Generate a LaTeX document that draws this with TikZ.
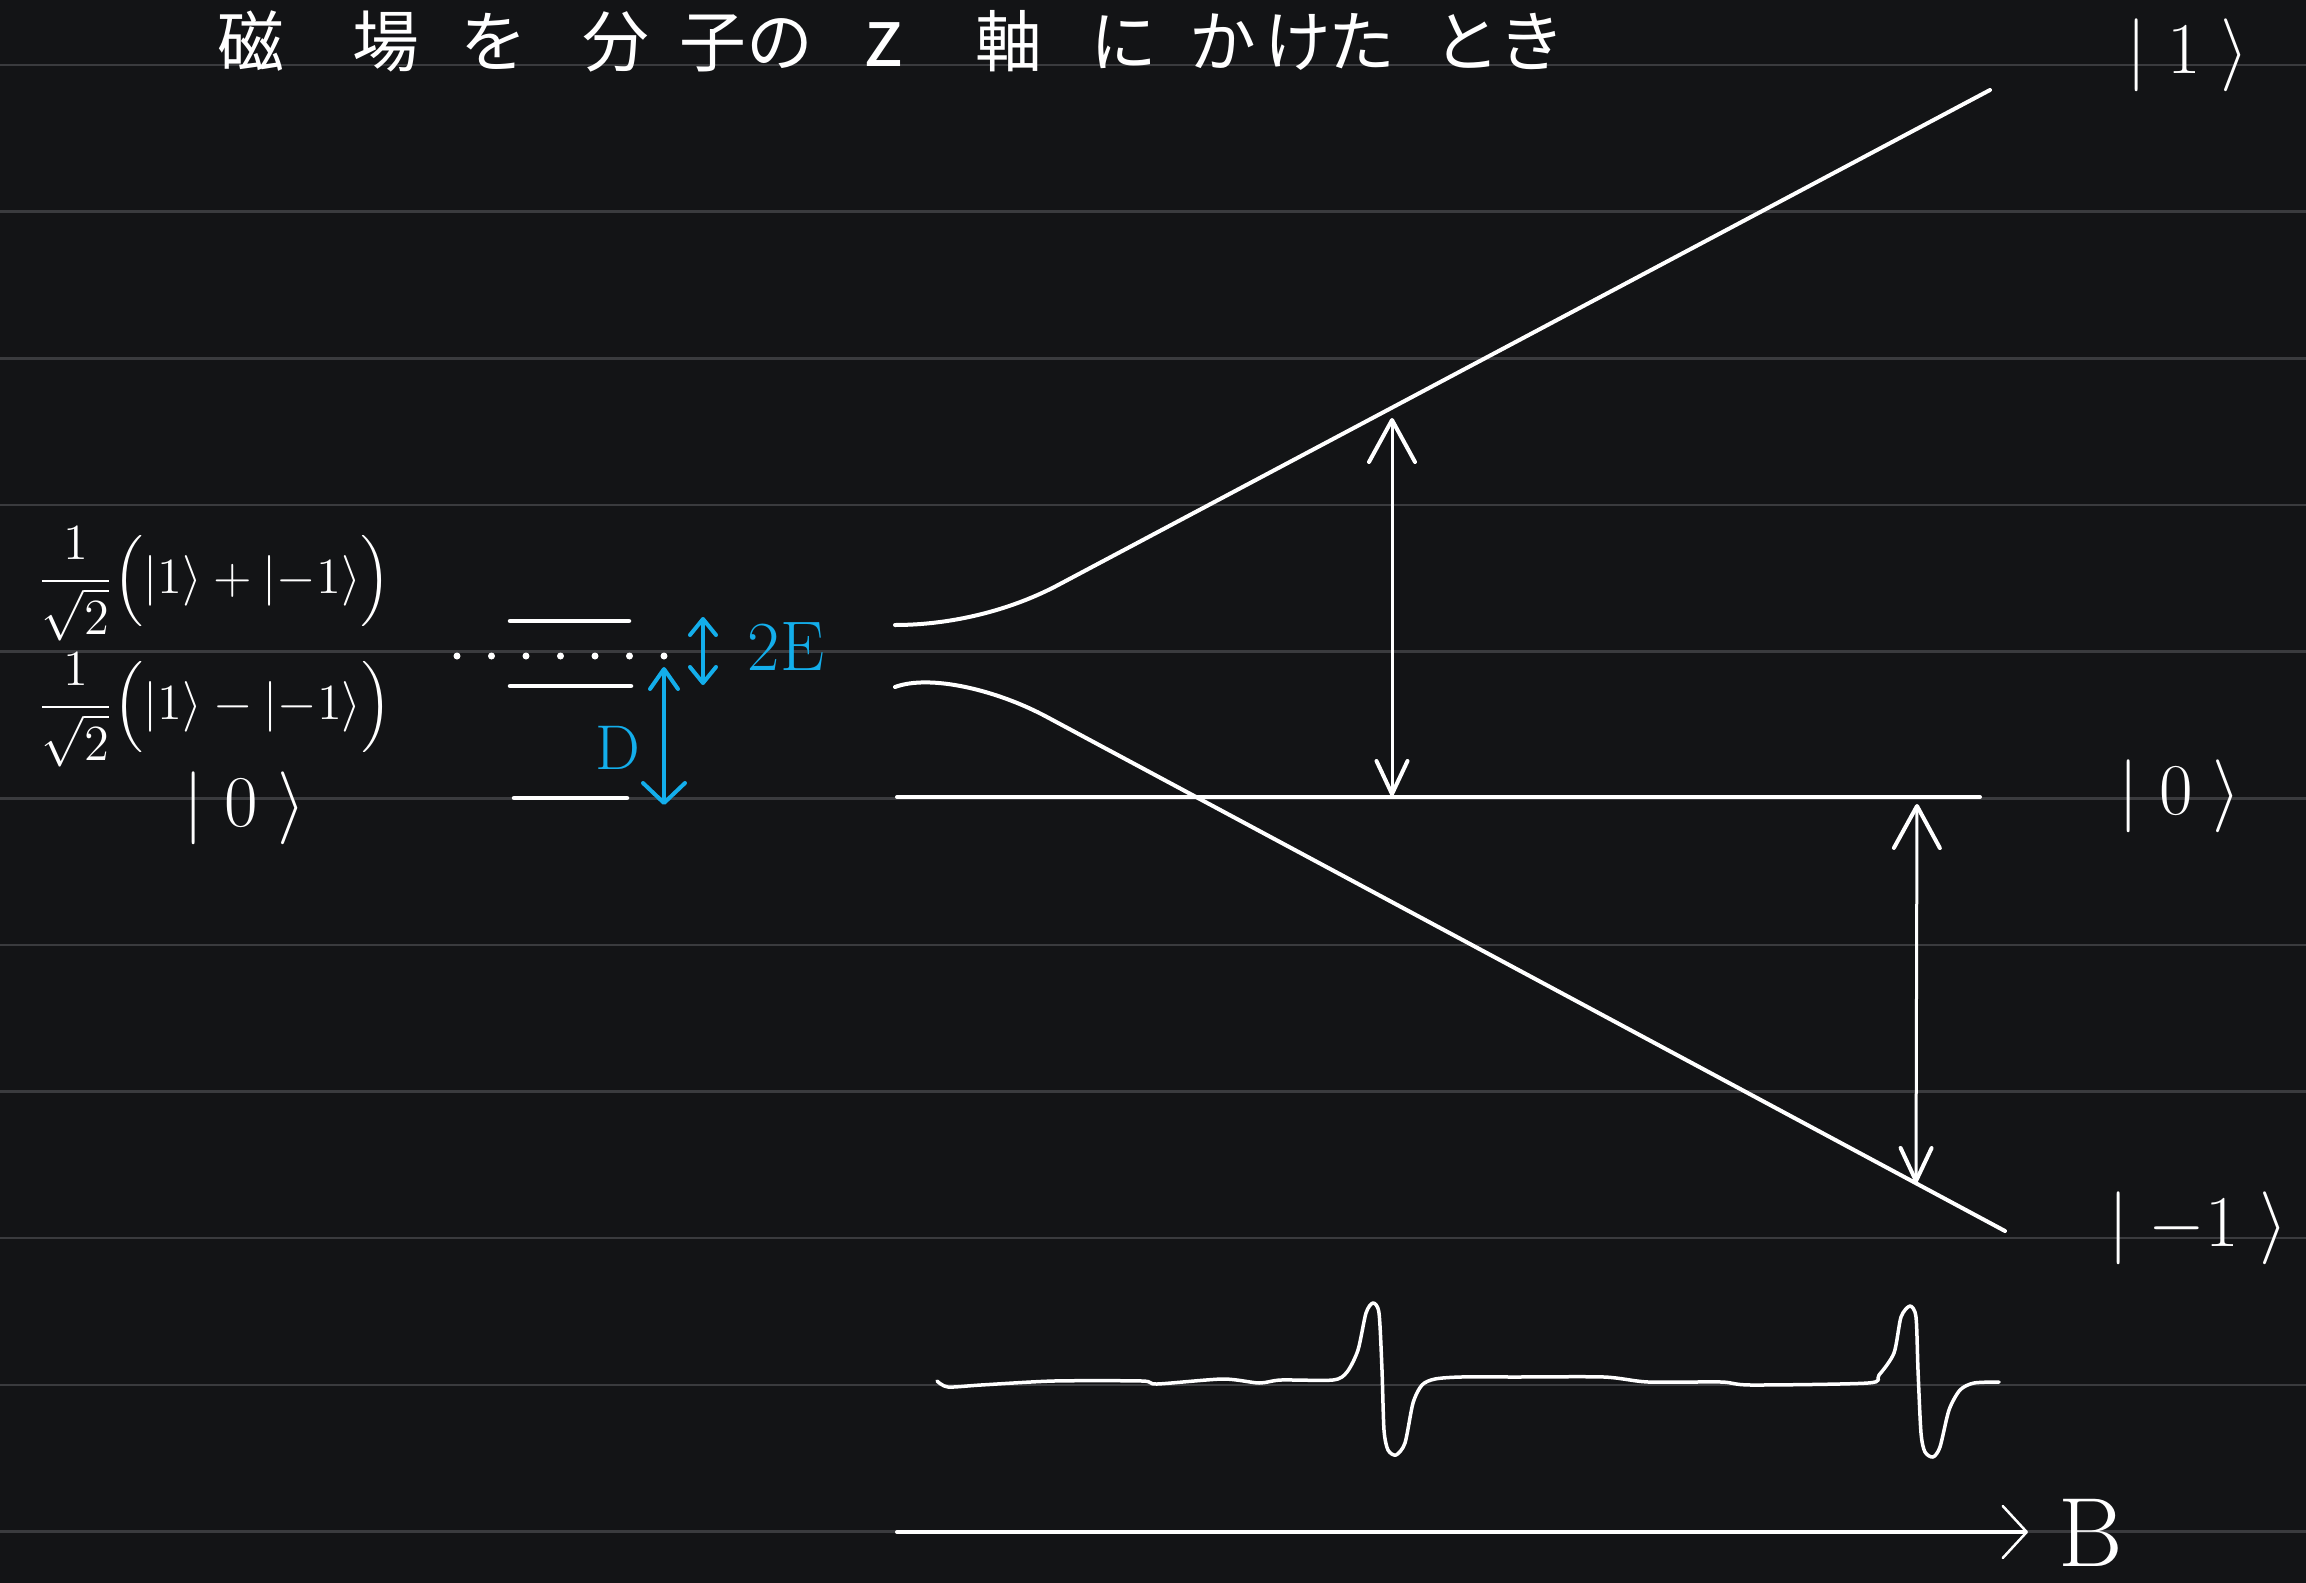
\documentclass[tikz,border=0pt]{standalone}
\usepackage{amsmath}
\usepackage{fontspec}
\newfontfamily\cjk{Noto Sans CJK JP}
\usetikzlibrary{arrows.meta}
\definecolor{bg}{HTML}{131416}
\definecolor{rulecol}{HTML}{3A3B3E}
\definecolor{ink}{HTML}{FFFFFF}
\definecolor{cyanink}{RGB}{19,174,235}
\begin{document}
\begin{tikzpicture}[x=0.1mm,y=-0.1mm,
  ruled/.style={draw=rulecol,line width=0.25mm},
  pen/.style={draw=ink,line width=0.4mm,line cap=round,line join=round},
  levelline/.style={draw=ink,line width=0.45mm,line cap=round},
  ket/.style={text=ink,inner sep=0pt,font=\fontsize{21}{24}\selectfont},
  lbl/.style={text=ink,inner sep=0pt,font=\fontsize{14}{17}\selectfont},
  varrow/.style={draw=ink,line width=0.3mm,line cap=round,
    {Straight Barb[round,length=3.3mm,width=3.1mm,line width=0.4mm]}-{Straight Barb[round,length=4.2mm,width=4.6mm,line width=0.4mm]}},
  carrow/.style={draw=cyanink,line width=0.4mm,line cap=round},
]
% background and ruled lines
\fill[bg] (0,0) rectangle (2306,1583);
\useasboundingbox (0,0) rectangle (2306,1583);
\foreach \k in {0,...,10}{
  \draw[ruled] (0,{65+146.65*\k}) -- (2306,{65+146.65*\k});
}
% title
\node[anchor=base west,text=ink,inner sep=0pt,font=\cjk\fontsize{19}{19}\selectfont] (title) at (217,66)
  {磁\hspace{6.8mm}場\hspace{4.1mm}を\hspace{5.6mm}分\hspace{3mm}子\hspace{0mm}の\hspace{3.7mm}\makebox[1em]{\fontsize{23}{23}\selectfont z}\hspace{5.8mm}軸\hspace{4.9mm}に\hspace{3.2mm}か\hspace{0.8mm}け\hspace{-0.3mm}た\hspace{3.9mm}と\hspace{-0.2mm}き};
% left labels
\node[lbl,anchor=west] (sym) at (37,584) {$\dfrac{1}{\sqrt{2}}\Bigl(|1\rangle+|{-1}\rangle\Bigr)$};
\node[lbl,anchor=west] (asym) at (37,710) {$\dfrac{1}{\sqrt{2}}\Bigl(|1\rangle-|{-1}\rangle\Bigr)$};
\node[ket,font=\fontsize{20}{24}\selectfont] (k0l) at (245,808) {$|\;0\;\rangle$};
% zero-field levels
\coordinate (l1a) at (510,621); \coordinate (l1b) at (629,621);
\coordinate (l2a) at (510,686); \coordinate (l2b) at (631,686);
\coordinate (l3a) at (514,798); \coordinate (l3b) at (627,798);
\draw[levelline] (l1a) -- (l1b);
\draw[levelline] (l2a) -- (l2b);
\draw[levelline] (l3a) -- (l3b);
\coordinate (dota) at (457,656); \coordinate (dotb) at (670,656);
\draw[draw=ink,line width=0.7mm,line cap=round,dash pattern=on 0pt off 3.45mm] (dota) -- (dotb);
% 2E and D arrows
\coordinate (eA) at (703,617); \coordinate (eB) at (703,685);
\draw[carrow,{Straight Barb[round,length=1.6mm,width=2.6mm,line width=0.4mm]}-{Straight Barb[round,length=1.6mm,width=2.6mm,line width=0.4mm]}] (eA) -- (eB);
\node[text=cyanink,inner sep=0pt,font=\fontsize{20}{24}\selectfont] (twoE) at (786,647) {2E};
\coordinate (dA) at (664,667); \coordinate (dB) at (664,805);
\draw[carrow,{Straight Barb[round,length=2mm,width=2.8mm,line width=0.4mm]}-{Straight Barb[round,length=2mm,width=4.2mm,line width=0.4mm]}] (dA) -- (dB);
\node[text=cyanink,inner sep=0pt,font=\fontsize{18}{22}\selectfont] (Dl) at (618,748) {D};
% Zeeman lines
\coordinate (u0) at (895,625); \coordinate (u1) at (1060,584); \coordinate (u2) at (1990,90);
\draw[pen] (u0) .. controls (950,625) and (1010,611) .. (u1) -- (u2);
\coordinate (d0) at (895,687); \coordinate (d1) at (1047,717); \coordinate (d2) at (2005,1231);
\draw[pen] (d0) .. controls (930,674) and (997,690) .. (d1) -- (d2);
\coordinate (z0) at (897,797); \coordinate (z1) at (1980,797);
\draw[pen] (z0) -- (z1);
% right kets
\node[ket] (k1) at (2188,55) {$|\;1\;\rangle$};
\node[ket] (k0) at (2180,796) {$|\;0\;\rangle$};
\node[ket] (km) at (2198,1228) {$|\;{-1}\;\rangle$};
% transitions
\coordinate (t1b) at (1392,796); \coordinate (t1t) at (1392,418);
\draw[varrow] (t1b) -- (t1t);
\coordinate (t2b) at (1916,1183); \coordinate (t2t) at (1917,804);
\draw[varrow] (t2b) -- (t2t);
% spectrum
\draw[pen,line width=0.35mm] plot[smooth,tension=0.45] coordinates {
 (937,1381) (948,1387) (981,1385) (1054,1381) (1142,1381) (1157,1384) (1223,1379) (1259,1383) (1281,1380) (1333,1380)
 (1347,1372) (1358,1350) (1366,1313) (1373,1303) (1379,1313) (1382,1370) (1384,1430) (1388,1450) (1396,1455)
 (1405,1443) (1413,1403) (1422,1385) (1435,1379) (1461,1377) (1516,1377) (1604,1377) (1648,1382) (1721,1382)
 (1751,1385) (1868,1383) (1879,1375) (1894,1353) (1901,1317) (1910,1306) (1916,1317) (1918,1370) (1921,1433)
 (1925,1452) (1933,1457) (1940,1447) (1949,1410) (1960,1390) (1974,1383) (1999,1382)};
% B axis
\coordinate (ax0) at (897,1532); \coordinate (ax1) at (2028,1532);
\draw[pen,-{Straight Barb[round,length=2.4mm,width=5.2mm,line width=0.25mm]}] (ax0) -- (ax1);
\node[text=ink,inner sep=0pt,font=\fontsize{28}{32}\selectfont] (Bl) at (2091,1533) {B};
\end{tikzpicture}
\end{document}
